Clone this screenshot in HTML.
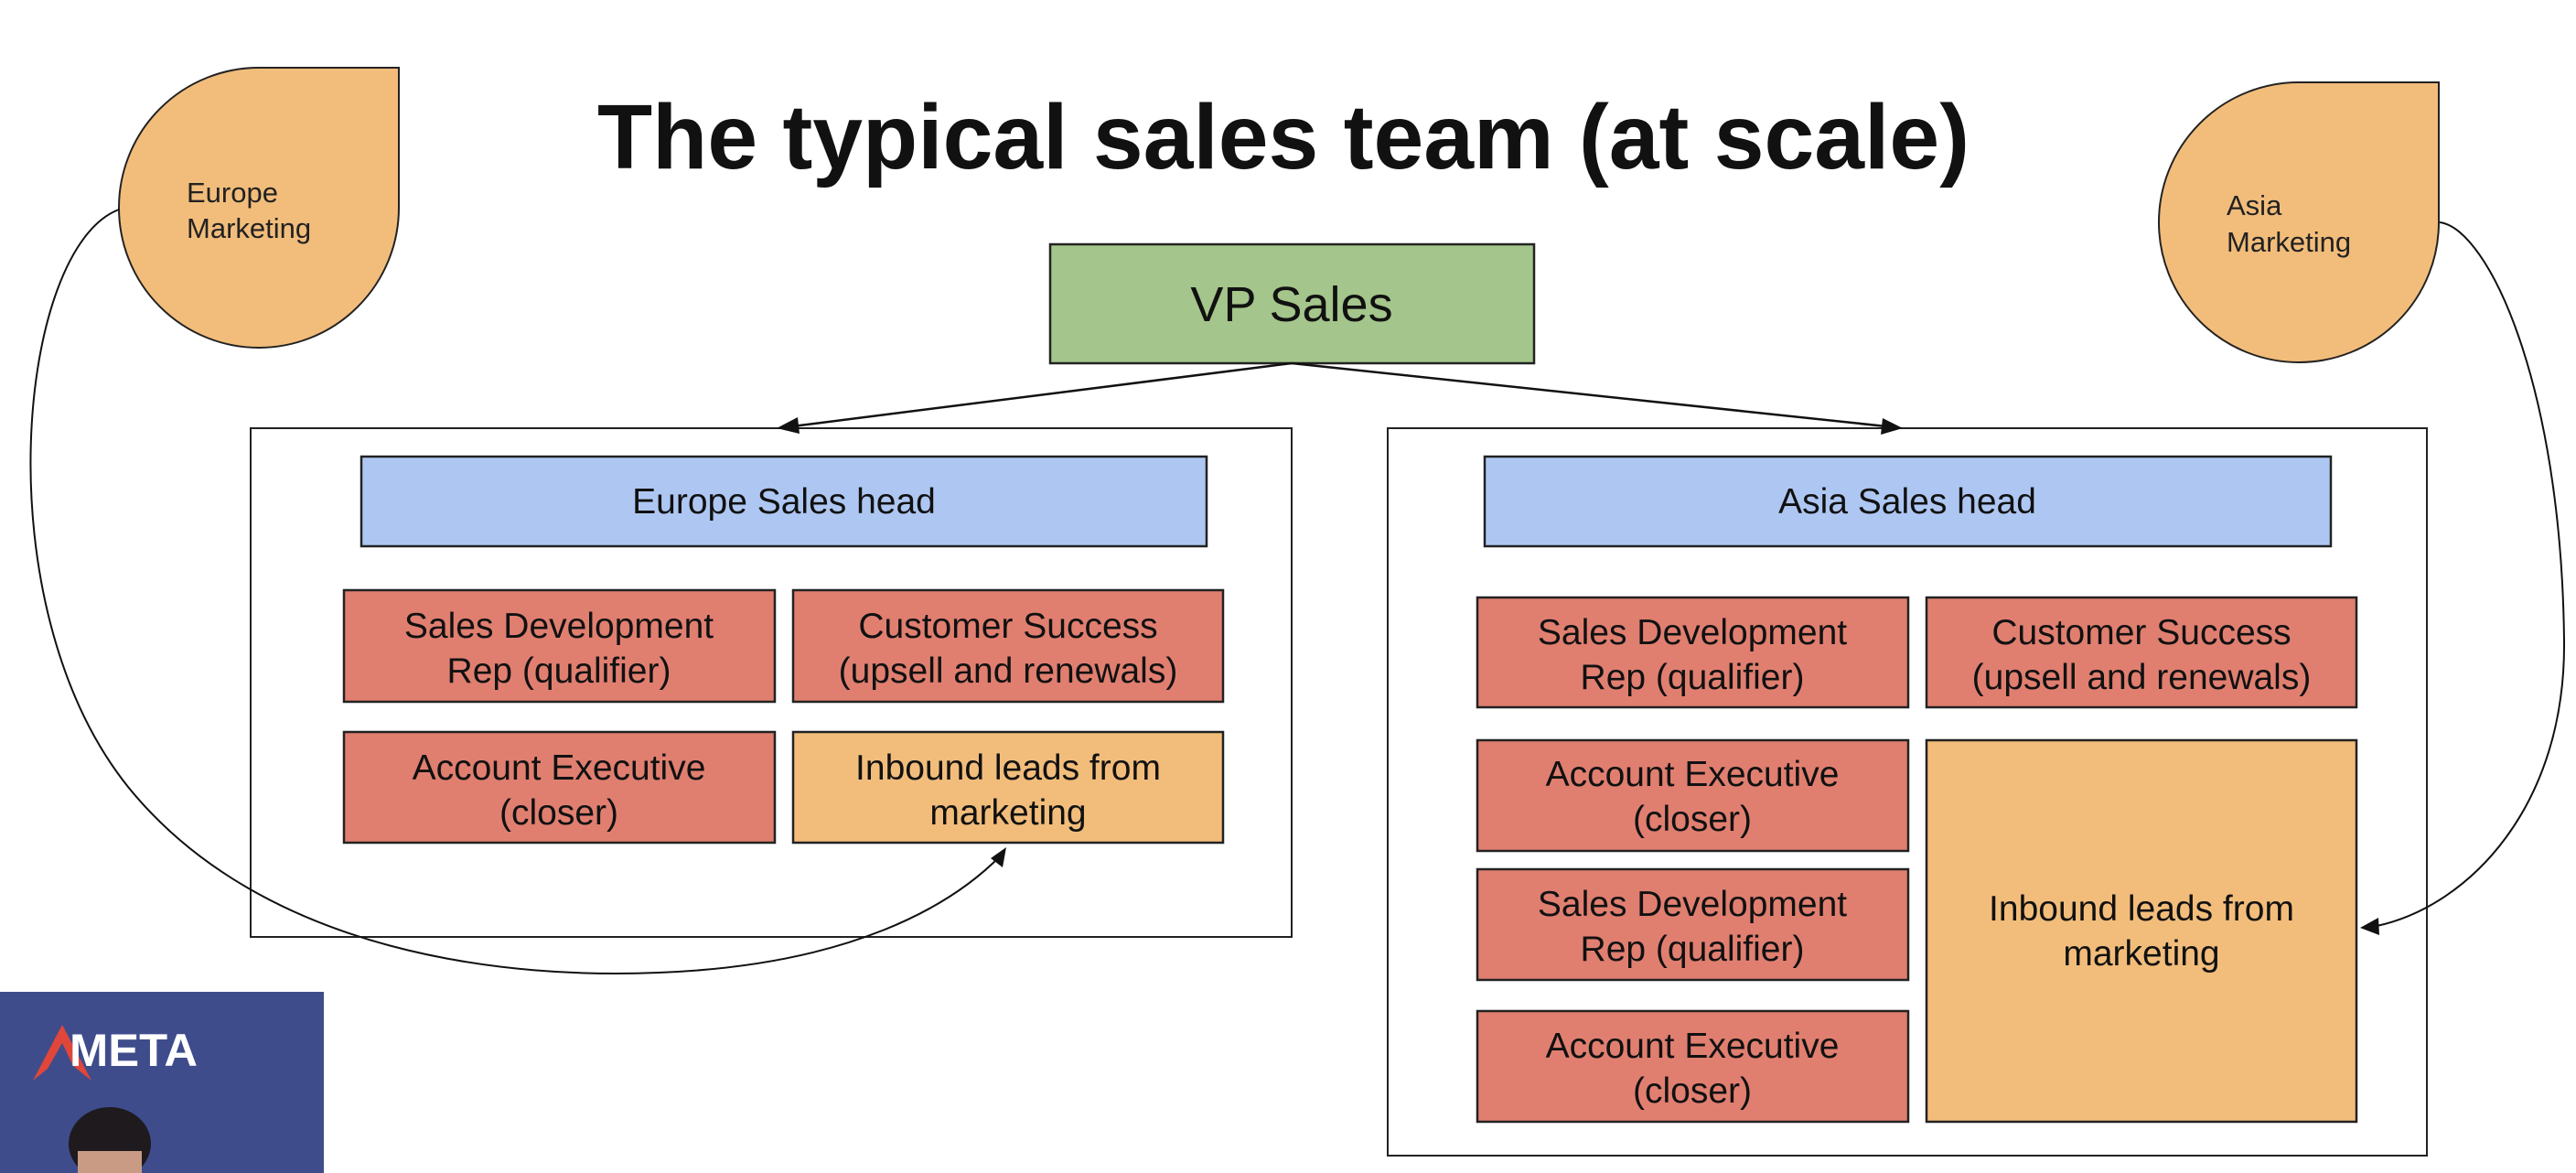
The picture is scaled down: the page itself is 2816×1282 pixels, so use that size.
<!DOCTYPE html>
<html><head><meta charset="utf-8"><style>
html,body{margin:0;padding:0;background:#fff;}
svg{display:block;}
text{font-family:"Liberation Sans",sans-serif;}
</style></head><body>
<svg width="2816" height="1282" viewBox="0 0 2816 1282" xmlns="http://www.w3.org/2000/svg">
<rect width="2816" height="1282" fill="#fff"/>

<!-- Title -->
<text x="653" y="184" font-size="100" font-weight="bold" fill="#111" textLength="1500" lengthAdjust="spacingAndGlyphs">The typical sales team (at scale)</text>

<!-- Teardrops -->
<path d="M283,74 L436,74 L436,227 A153,153 0 1 1 283,74 Z" fill="#f2bd7b" stroke="#222" stroke-width="2"/>
<text x="204" y="221" font-size="31" fill="#222">Europe</text>
<text x="204" y="260" font-size="31" fill="#222">Marketing</text>

<path d="M2513,90 L2666,90 L2666,243 A153,153 0 1 1 2513,90 Z" fill="#f2bd7b" stroke="#222" stroke-width="2"/>
<text x="2434" y="235" font-size="31" fill="#222">Asia</text>
<text x="2434" y="275" font-size="31" fill="#222">Marketing</text>

<!-- VP Sales -->
<rect x="1148" y="267" width="529" height="130" fill="#a4c58b" stroke="#222" stroke-width="2.5"/>
<text x="1412" y="351" font-size="54" fill="#111" text-anchor="middle">VP Sales</text>

<!-- containers -->
<rect x="274" y="468" width="1138" height="556" fill="none" stroke="#222" stroke-width="2"/>
<rect x="1517" y="468" width="1136" height="795" fill="none" stroke="#222" stroke-width="2"/>

<!-- VP arrows -->
<line x1="1412" y1="397" x2="866" y2="466" stroke="#111" stroke-width="2.5"/>
<polygon points="849,468 872,456 874,474" fill="#111"/>
<line x1="1412" y1="397" x2="2062" y2="466" stroke="#111" stroke-width="2.5"/>
<polygon points="2080,468 2058,457 2056,475" fill="#111"/>

<!-- Europe -->
<rect x="395" y="499" width="924" height="98" fill="#aec7f2" stroke="#222" stroke-width="2.5"/>
<text x="857" y="561" font-size="39" fill="#111" text-anchor="middle">Europe Sales head</text>

<g font-size="39" fill="#111" text-anchor="middle">
<rect x="376" y="645" width="471" height="122" fill="#e07f70" stroke="#222" stroke-width="2.5"/>
<text x="611" y="697">Sales Development</text><text x="611" y="746">Rep (qualifier)</text>
<rect x="867" y="645" width="470" height="122" fill="#e07f70" stroke="#222" stroke-width="2.5"/>
<text x="1102" y="697">Customer Success</text><text x="1102" y="746">(upsell and renewals)</text>
<rect x="376" y="800" width="471" height="121" fill="#e07f70" stroke="#222" stroke-width="2.5"/>
<text x="611" y="852">Account Executive</text><text x="611" y="901">(closer)</text>
<rect x="867" y="800" width="470" height="121" fill="#f2bd7b" stroke="#222" stroke-width="2.5"/>
<text x="1102" y="852">Inbound leads from</text><text x="1102" y="901">marketing</text>
</g>

<!-- Asia -->
<rect x="1623" y="499" width="925" height="98" fill="#aec7f2" stroke="#222" stroke-width="2.5"/>
<text x="2085" y="561" font-size="39" fill="#111" text-anchor="middle">Asia Sales head</text>

<g font-size="39" fill="#111" text-anchor="middle">
<rect x="1615" y="653" width="471" height="120" fill="#e07f70" stroke="#222" stroke-width="2.5"/>
<text x="1850" y="704">Sales Development</text><text x="1850" y="753">Rep (qualifier)</text>
<rect x="2106" y="653" width="470" height="120" fill="#e07f70" stroke="#222" stroke-width="2.5"/>
<text x="2341" y="704">Customer Success</text><text x="2341" y="753">(upsell and renewals)</text>
<rect x="1615" y="809" width="471" height="121" fill="#e07f70" stroke="#222" stroke-width="2.5"/>
<text x="1850" y="859">Account Executive</text><text x="1850" y="908">(closer)</text>
<rect x="1615" y="950" width="471" height="121" fill="#e07f70" stroke="#222" stroke-width="2.5"/>
<text x="1850" y="1001">Sales Development</text><text x="1850" y="1050">Rep (qualifier)</text>
<rect x="1615" y="1105" width="471" height="121" fill="#e07f70" stroke="#222" stroke-width="2.5"/>
<text x="1850" y="1156">Account Executive</text><text x="1850" y="1205">(closer)</text>
<rect x="2106" y="809" width="470" height="417" fill="#f2bd7b" stroke="#222" stroke-width="2.5"/>
<text x="2341" y="1006">Inbound leads from</text><text x="2341" y="1055">marketing</text>
</g>

<!-- curves -->
<path d="M130,229 C20,270 -20,660 140,860 C290,1045 560,1070 720,1063 C930,1055 1040,990 1094,935" fill="none" stroke="#111" stroke-width="2"/>
<polygon points="1100,926 1083,938 1096,948" fill="#111"/>
<path d="M2667,243 C2720,250 2800,420 2803,700 C2805,880 2700,990 2598,1012" fill="none" stroke="#111" stroke-width="2"/>
<polygon points="2580,1014 2600,1003 2601,1022" fill="#111"/>

<!-- META video box -->
<rect x="0" y="1084" width="354" height="198" fill="#3f4c8c"/>
<polygon points="36,1181 68,1120 100,1181 80,1165 68,1140 52,1168" fill="#e0463a"/>
<text x="76" y="1165" font-size="50" font-weight="bold" fill="#fff" textLength="140" lengthAdjust="spacingAndGlyphs">META</text>
<ellipse cx="120" cy="1250" rx="45" ry="40" fill="#1e1a1e"/>
<rect x="85" y="1258" width="70" height="24" fill="#c99b84"/>
</svg>
</body></html>
